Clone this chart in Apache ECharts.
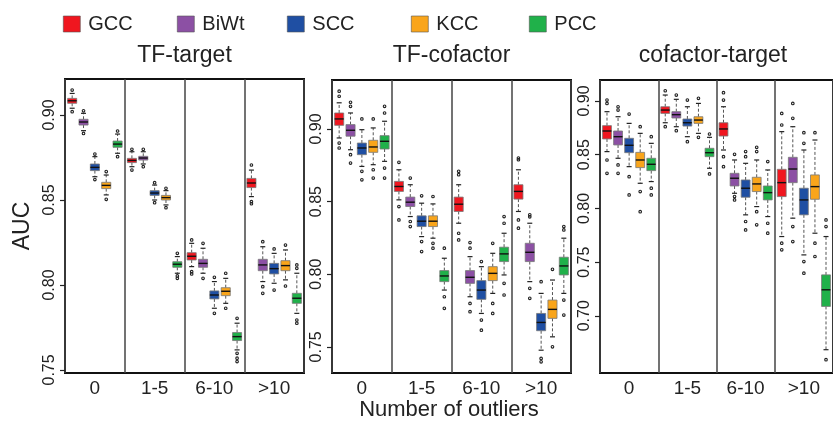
<!DOCTYPE html>
<html>
<head>
<meta charset="utf-8">
<script src="https://cdn.jsdelivr.net/npm/echarts@6/dist/echarts.min.js"></script>
<style>
  html, body { margin: 0; padding: 0; background: #fff; }
  #chart { width: 833px; height: 424px; }
</style>
</head>
<body>
<div id="chart"></div>
<script>
const groups = ['0', '1-5', '6-10', '>10']
const methods = ['GCC', 'BiWt', 'SCC', 'KCC', 'PCC']
const methodColors = ['#f0161f', '#8c50a4', '#1f4fa3', '#f9a51b', '#20b14a']
const panelTitles = ['TF-target', 'TF-cofactor', 'cofactor-target']

// [lower whisker, q1, median, q3, upper whisker] per method, per group
const tfTargetBoxes = [
  [[0.9040, 0.9069, 0.9084, 0.9098, 0.9127], [0.8696, 0.8720, 0.8733, 0.8745, 0.8784], [0.8108, 0.8147, 0.8169, 0.8190, 0.8245], [0.8520, 0.8573, 0.8600, 0.8627, 0.8676]],
  [[0.8908, 0.8941, 0.8959, 0.8975, 0.9010], [0.8712, 0.8735, 0.8747, 0.8757, 0.8784], [0.8069, 0.8104, 0.8127, 0.8151, 0.8216], [0.8020, 0.8084, 0.8118, 0.8151, 0.8225]],
  [[0.8637, 0.8673, 0.8692, 0.8712, 0.8755], [0.8500, 0.8527, 0.8541, 0.8555, 0.8588], [0.7863, 0.7918, 0.7941, 0.7965, 0.8020], [0.8010, 0.8065, 0.8096, 0.8127, 0.8186]],
  [[0.8530, 0.8567, 0.8586, 0.8604, 0.8647], [0.8471, 0.8500, 0.8514, 0.8527, 0.8555], [0.7892, 0.7937, 0.7963, 0.7984, 0.8039], [0.8030, 0.8084, 0.8114, 0.8143, 0.8206]],
  [[0.8775, 0.8810, 0.8829, 0.8847, 0.8888], [0.8069, 0.8104, 0.8122, 0.8137, 0.8167], [0.7618, 0.7673, 0.7696, 0.7720, 0.7775], [0.7833, 0.7892, 0.7922, 0.7951, 0.8069]]
]
const tfTargetOutliers = [
  [[0.9147, 0.9020], [0.8798, 0.8676], [0.8265, 0.8078, 0.8065], [0.8706, 0.8490, 0.8478]],
  [[0.9025, 0.8892], [0.8798, 0.8696], [0.8245, 0.8039], [0.8255, 0.7990, 0.7951]],
  [[0.8770, 0.8620], [0.8602, 0.8484], [0.8045, 0.7833], [0.8212, 0.7970]],
  [[0.8667, 0.8504], [0.8569, 0.8455], [0.8069, 0.7863], [0.8235, 0.7994]],
  [[0.8906, 0.8755], [0.8186, 0.8053, 0.8039], [0.7804, 0.7598, 0.7569, 0.7549], [0.8098, 0.8118, 0.7794, 0.7775]]
]

const tfCofactorBoxes = [
  [[0.8938, 0.9025, 0.9069, 0.9110, 0.9180], [0.8512, 0.8570, 0.8604, 0.8639, 0.8719], [0.8351, 0.8432, 0.8482, 0.8531, 0.8616], [0.8432, 0.8517, 0.8570, 0.8616, 0.8719]],
  [[0.8857, 0.8950, 0.8991, 0.9030, 0.9110], [0.8397, 0.8466, 0.8496, 0.8531, 0.8616], [0.7845, 0.7937, 0.7979, 0.8025, 0.8121], [0.7949, 0.8087, 0.8151, 0.8213, 0.8351]],
  [[0.8742, 0.8823, 0.8869, 0.8903, 0.8995], [0.8259, 0.8328, 0.8365, 0.8402, 0.8489], [0.7730, 0.7827, 0.7891, 0.7956, 0.8052], [0.7477, 0.7611, 0.7668, 0.7730, 0.7868]],
  [[0.8754, 0.8839, 0.8876, 0.8922, 0.9007], [0.8248, 0.8328, 0.8365, 0.8402, 0.8484], [0.7868, 0.7956, 0.8006, 0.8052, 0.8144], [0.7569, 0.7696, 0.7758, 0.7822, 0.7960]],
  [[0.8777, 0.8862, 0.8915, 0.8954, 0.9053], [0.7891, 0.7949, 0.7988, 0.8025, 0.8110], [0.7995, 0.8087, 0.8140, 0.8186, 0.8282], [0.7868, 0.7995, 0.8057, 0.8117, 0.8248]]
]
const tfCofactorOutliers = [
  [[0.9225, 0.9260, 0.8903, 0.8869], [0.8770, 0.8466, 0.8374], [0.8685, 0.8708, 0.8282, 0.8236], [0.8788, 0.8800, 0.8374, 0.8317]],
  [[0.9156, 0.9184, 0.8823, 0.8765], [0.8662, 0.8363, 0.8328], [0.8179, 0.8218, 0.7799, 0.7742], [0.8395, 0.8409, 0.7903, 0.7834]],
  [[0.9069, 0.8708, 0.8650], [0.8540, 0.8225, 0.8156], [0.8087, 0.7684, 0.7615], [0.7949, 0.7420, 0.7397]],
  [[0.9069, 0.8719, 0.8662], [0.8535, 0.8213, 0.8179], [0.8213, 0.7799, 0.7730], [0.8034, 0.7500]],
  [[0.9110, 0.9156, 0.8731, 0.8662], [0.8179, 0.7845, 0.7765], [0.8351, 0.8397, 0.7937, 0.7857], [0.8305, 0.8328, 0.7822, 0.7719]]
]

const cofactorTargetBoxes = [
  [[0.8529, 0.8647, 0.8721, 0.8771, 0.8901], [0.8798, 0.8885, 0.8916, 0.8947, 0.9056], [0.8544, 0.8674, 0.8740, 0.8798, 0.8947], [0.7738, 0.8110, 0.8240, 0.8364, 0.8715]],
  [[0.8467, 0.8591, 0.8668, 0.8721, 0.8854], [0.8761, 0.8842, 0.8873, 0.8901, 0.9016], [0.8141, 0.8209, 0.8281, 0.8327, 0.8451], [0.7909, 0.8240, 0.8367, 0.8476, 0.8761]],
  [[0.8389, 0.8519, 0.8588, 0.8653, 0.8792], [0.8668, 0.8767, 0.8798, 0.8833, 0.8947], [0.7940, 0.8104, 0.8188, 0.8265, 0.8420], [0.7567, 0.7940, 0.8079, 0.8188, 0.8544]],
  [[0.8234, 0.8380, 0.8451, 0.8522, 0.8699], [0.8699, 0.8792, 0.8823, 0.8854, 0.8978], [0.8017, 0.8157, 0.8228, 0.8290, 0.8451], [0.7769, 0.8085, 0.8203, 0.8312, 0.8637]],
  [[0.8250, 0.8352, 0.8411, 0.8467, 0.8606], [0.8374, 0.8482, 0.8519, 0.8560, 0.8662], [0.7924, 0.8079, 0.8147, 0.8209, 0.8358], [0.6684, 0.7087, 0.7242, 0.7381, 0.7738]]
]
const cofactorTargetOutliers = [
  [[0.8978, 0.9009, 0.8451, 0.8327], [0.9096, 0.8761], [0.9009, 0.9078, 0.8482, 0.8389], [0.8777, 0.8885, 0.7676, 0.7614]],
  [[0.8916, 0.8947, 0.8405, 0.8327], [0.9056, 0.8724], [0.8504, 0.8110, 0.8079], [0.8839, 0.8978, 0.7831, 0.7691]],
  [[0.8879, 0.8296, 0.8126], [0.9009, 0.8622], [0.8482, 0.8529, 0.7878, 0.7800], [0.8606, 0.8705, 0.7505, 0.7397]],
  [[0.8761, 0.8157, 0.7970], [0.9025, 0.8662], [0.8529, 0.8569, 0.7970, 0.7847], [0.8705, 0.7676, 0.7552]],
  [[0.8668, 0.8188, 0.8126], [0.8693, 0.8321], [0.8436, 0.7862, 0.7769], [0.7831, 0.7893, 0.6591]]
]

const tfTargetTicks = [0.75, 0.80, 0.85, 0.90]
const tfCofactorTicks = [0.75, 0.80, 0.85, 0.90]
const cofactorTargetTicks = [0.70, 0.75, 0.80, 0.85, 0.90]
const yRanges = [[0.7482, 0.9212], [0.732, 0.9337], [0.6467, 0.9196]]

const panelBoxes = [tfTargetBoxes, tfCofactorBoxes, cofactorTargetBoxes]
const panelOutliers = [tfTargetOutliers, tfCofactorOutliers, cofactorTargetOutliers]
const panelTicks = [tfTargetTicks, tfCofactorTicks, cofactorTargetTicks]

const FONT = '"Liberation Sans", Arial, sans-serif'
const gridBoxes = [
  { left: 65, top: 79, width: 239, height: 294 },
  { left: 332, top: 80, width: 239, height: 293 },
  { left: 600, top: 80, width: 238, height: 293 }
]
const legendLeft = [63, 177, 287, 411, 529]

function makeBoxRender(slot, color, outliers) {
  return function (params, api) {
    const gi = api.value(0)
    const band = api.size([1, 0])[0]
    const x = api.coord([gi, api.value(3)])[0] + (slot - 2) * band * 0.19
    const half = band * 0.076
    const y = i => api.coord([gi, api.value(i)])[1]
    const yLo = y(1), yQ1 = y(2), yMed = y(3), yQ3 = y(4), yHi = y(5)
    const whisker = { stroke: '#555', lineWidth: 1, lineDash: [3, 2] }
    const cap = { stroke: '#222', lineWidth: 1.2 }
    const children = [
      { type: 'line', shape: { x1: x, y1: yQ3, x2: x, y2: yHi }, style: whisker },
      { type: 'line', shape: { x1: x, y1: yQ1, x2: x, y2: yLo }, style: whisker },
      { type: 'line', shape: { x1: x - 2.5, y1: yHi, x2: x + 2.5, y2: yHi }, style: cap },
      { type: 'line', shape: { x1: x - 2.5, y1: yLo, x2: x + 2.5, y2: yLo }, style: cap },
      { type: 'rect', shape: { x: x - half, y: yQ3, width: half * 2, height: yQ1 - yQ3 },
        style: { fill: color, stroke: '#777', lineWidth: 0.8 } },
      { type: 'line', shape: { x1: x - half, y1: yMed, x2: x + half, y2: yMed },
        style: { stroke: '#111', lineWidth: 1.4 } }
    ]
    ;(outliers[params.dataIndex] || []).forEach(v => {
      const p = api.coord([gi, v])
      children.push({ type: 'circle', shape: { cx: x, cy: p[1], r: 1.3 },
        style: { fill: 'none', stroke: '#222', lineWidth: 1.1 } })
    })
    return { type: 'group', children }
  }
}

const series = []
panelBoxes.forEach((boxes, p) => {
  methods.forEach((name, m) => {
    series.push({
      name,
      type: 'custom',
      xAxisIndex: p,
      yAxisIndex: p,
      itemStyle: { color: methodColors[m] },
      encode: { x: 0, y: [1, 2, 3, 4, 5] },
      data: groups.map((g, gi) => [gi].concat(boxes[m][gi])),
      renderItem: makeBoxRender(m, methodColors[m], panelOutliers[p][m])
    })
  })
})

const chart = echarts.init(document.getElementById('chart'))
chart.setOption({
  animation: false,
  textStyle: { fontFamily: FONT },
  legend: methods.map((name, m) => ({
    data: [name],
    left: legendLeft[m],
    top: 14,
    padding: 0,
    icon: 'rect',
    itemWidth: 17,
    itemHeight: 16,
    itemStyle: { borderColor: '#555', borderWidth: 0.6 },
    textStyle: { fontSize: 20, color: '#222', padding: [0, 0, 0, 3], fontFamily: FONT }
  })),
  grid: gridBoxes.map(b => ({
    left: b.left, top: b.top, width: b.width, height: b.height,
    show: true, borderColor: '#111', borderWidth: 2, backgroundColor: 'transparent'
  })),
  xAxis: gridBoxes.map((b, p) => ({
    type: 'category',
    gridIndex: p,
    data: groups,
    axisLine: { show: false },
    axisTick: { show: false },
    axisLabel: { color: '#222', fontSize: 19, margin: 6, fontFamily: FONT },
    splitLine: { show: true, lineStyle: { color: '#444', width: 1.5 } }
  })),
  yAxis: gridBoxes.map((b, p) => ({
    type: 'value',
    gridIndex: p,
    min: yRanges[p][0],
    max: yRanges[p][1],
    name: p === 0 ? 'AUC' : '',
    nameLocation: 'middle',
    nameGap: 31,
    nameTextStyle: { fontSize: 23, color: '#222', fontFamily: FONT },
    axisLine: { show: false },
    axisTick: { show: true, length: 5, customValues: panelTicks[p], lineStyle: { color: '#222', width: 1.2 } },
    axisLabel: {
      customValues: panelTicks[p],
      rotate: 90,
      margin: 7,
      fontSize: 16,
      color: '#222',
      fontFamily: FONT,
      formatter: v => v.toFixed(2)
    },
    splitLine: { show: false }
  })),
  graphic: panelTitles.map((t, p) => ({
    type: 'text',
    x: gridBoxes[p].left + gridBoxes[p].width / 2 + (p === 2 ? -6 : 0),
    y: 56,
    style: { text: t, font: '23px ' + FONT, fill: '#222', textAlign: 'center', textVerticalAlign: 'middle' }
  })).concat([{
    type: 'text',
    x: 449,
    y: 410,
    style: { text: 'Number of outliers', font: '22px ' + FONT, fill: '#222', textAlign: 'center', textVerticalAlign: 'middle' }
  }]),
  series
})
</script>
</body>
</html>
